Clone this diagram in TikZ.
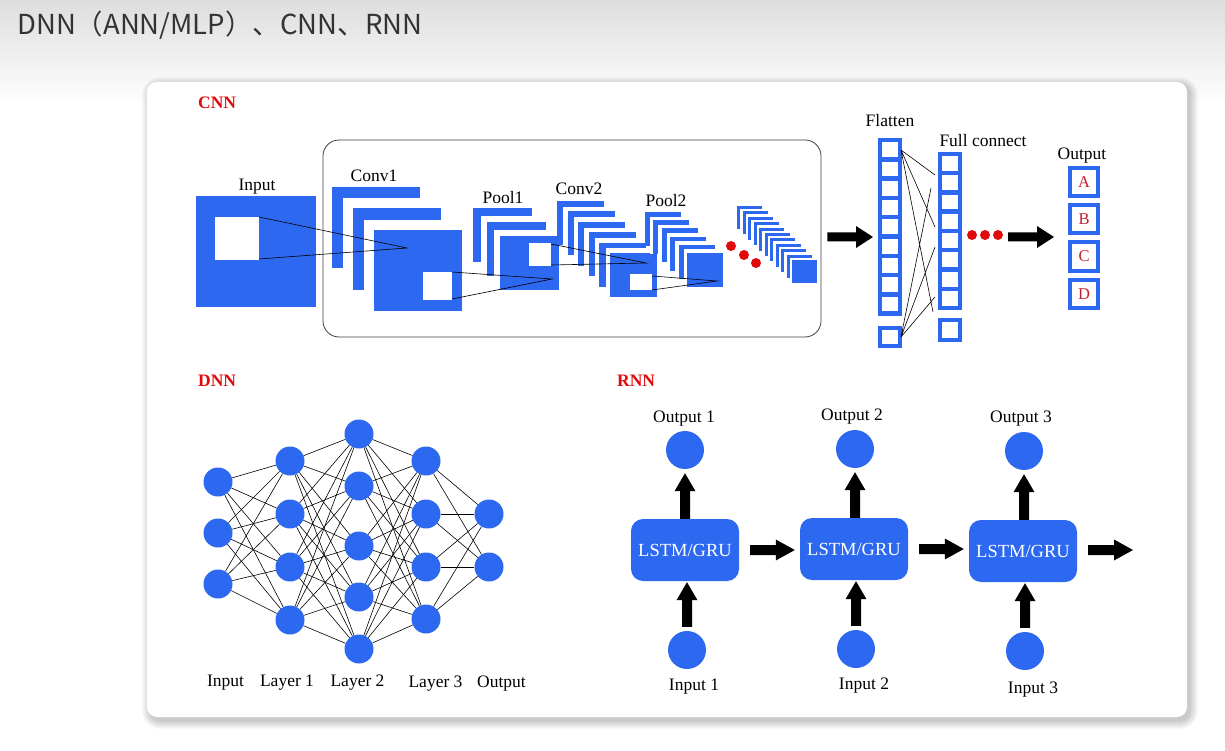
\documentclass[tikz,border=0pt]{standalone}
\usepackage{fontspec}
\setmainfont{Liberation Serif}
\newfontfamily\cjkfont{Noto Sans CJK SC}
\usetikzlibrary{calc}
\definecolor{nnblue}{RGB}{45,105,240}
\definecolor{nnred}{RGB}{225,10,10}
\definecolor{ltrred}{RGB}{200,30,40}
\newcommand\cnnstack[8]{%
  \foreach \k in {1,...,#5}{%
    \pgfmathsetmacro\stkx{#1+(\k-1)*#6}%
    \pgfmathsetmacro\stky{#2+(\k-1)*#7}%
    \ifnum\k>1 \fill[white] ({\stkx-#8},{\stky-#8}) rectangle ({\stkx+#3},{\stky+#4});\fi
    \fill[nnblue] (\stkx,\stky) rectangle ({\stkx+#3},{\stky+#4});
  }}
% from, to, shorten start, shorten end, half shaft, half head, head length
\newcommand\fatarrow[7]{%
  \fill[black] let \p1=(#1), \p2=(#2), \n1={atan2(\y2-\y1,\x2-\x1)}, \n2={veclen(\x2-\x1,\y2-\y1)} in
   [shift={(\p1)}, rotate=\n1]
   (#3,-#5) -- ({\n2-#4-#7},-#5) -- ({\n2-#4-#7},-#6) -- ({\n2-#4},0) -- ({\n2-#4-#7},#6) -- ({\n2-#4-#7},#5) -- (#3,#5) -- cycle;}
\begin{document}
\begin{tikzpicture}[x=1pt,y=-1pt,
  lbl/.style={font=\fontsize{17.5}{20}\selectfont, anchor=base, inner sep=0},
  sect/.style={font=\fontsize{17.5}{20}\selectfont\bfseries, text=nnred, anchor=base west, inner sep=0},
  neuron/.style={circle, fill=nnblue, minimum size=29pt, inner sep=0},
  rnode/.style={circle, fill=nnblue, minimum size=38pt, inner sep=0},
  lstm/.style={rounded corners=12pt, fill=nnblue, text=white, minimum width=108pt, minimum height=62pt, inner sep=0, font=\fontsize{18.5}{20}\selectfont},
  edge/.style={line width=0.6pt, black},
  cell/.style={draw=nnblue, line width=4.5pt, fill=white},
  outbox/.style={draw=nnblue, line width=4pt, fill=white, minimum width=28pt, minimum height=28pt, inner sep=0, text=ltrred, font=\fontsize{16.5}{18}\selectfont},
  dot/.style={circle, fill=nnred, inner sep=0, minimum size=10pt}
  ]
\useasboundingbox (0,0) rectangle (1225,751);
% background
\fill[white] (0,0) rectangle (1225,751);
\shade[top color=black!13, bottom color=white] (0,0) rectangle (1225,105);
\node[anchor=base west, inner sep=0, font=\cjkfont\fontsize{27.5}{30}\selectfont, text=black!80] (title) at (17,35) {DNN（ANN/MLP）、CNN、RNN};
% panel shadow + panel
\foreach \s in {0,...,8}
  \fill[black, opacity=0.022, rounded corners={10pt+\s pt}] ({150-\s},{85-\s}) rectangle ({1190+\s},{721+\s});
\fill[white, rounded corners=10pt] (147,82) rectangle (1187,717);

% ================= CNN =================
\node[sect] (tcnn) at (198,109) {CNN};
\fill[nnblue] (196,196) rectangle (316,307);
\fill[white] (215,217) rectangle (259,260);
\node[lbl] (linput) at (257,191) {Input};
% conv1
\cnnstack{332}{187}{88}{81}{3}{21}{21.5}{10}
\fill[white] (423,272) rectangle (452,300);
\node[lbl] (lconv1) at (374,182) {Conv1};
% pool1
\cnnstack{473}{208}{59}{54}{3}{13.5}{14}{6}
\fill[white] (529,243) rectangle (551,266);
\node[lbl] (lpool1) at (503,204) {Pool1};
% conv2
\cnnstack{557}{201}{47}{44}{6}{10.6}{10.4}{4.5}
\fill[white] (630,274) rectangle (652,290);
\node[lbl] (lconv2) at (579,195) {Conv2};
% pool2
\cnnstack{645}{212}{36}{34}{6}{8.4}{8.2}{3.5}
\node[lbl] (lpool2) at (666,207) {Pool2};
% final
\cnnstack{737}{206}{25}{23}{11}{5.5}{5.4}{2.3}
% red dots
\node[dot] (d1) at (731,246) {};
\node[dot] (d2) at (744,255) {};
\node[dot] (d3) at (756,263) {};
% receptive field lines
\coordinate (a1) at (259,217); \coordinate (a2) at (259,259); \coordinate (ap) at (407,248);
\draw[edge] (a1) -- (ap) -- (a2);
\coordinate (b1c) at (452,272); \coordinate (b2c) at (452,299); \coordinate (bp) at (552,279);
\draw[edge] (b1c) -- (bp) -- (b2c);
\coordinate (c1c) at (551,244); \coordinate (c2c) at (551,265); \coordinate (cp) at (646,263);
\draw[edge] (c1c) -- (cp) -- (c2c);
\coordinate (e1c) at (652,276); \coordinate (e2c) at (652,290); \coordinate (ep) at (717,281);
\draw[edge] (e1c) -- (ep) -- (e2c);
% box
\node[draw=black!75, line width=0.8pt, rounded corners=16pt, minimum width=498pt, minimum height=197pt, inner sep=0] (convbox) at (572,238.5) {};
% arrow to flatten
\coordinate (flatW) at (878,237);
\coordinate (boxE) at (convbox.east |- flatW);
\fatarrow{boxE}{flatW}{6}{5}{4.5}{11}{17}
% flatten
\node[lbl] (lflat) at (890,127) {Flatten};
\foreach \k in {0,...,8} \path[cell] (880,{140+\k*19.3}) rectangle (900,{159.3+\k*19.3});
\path[cell] (880,328) rectangle (900,346);
% full connect
\node[lbl] (lfc) at (983,147) {Full connect};
\foreach \k in {0,...,7} \path[cell] (940,{154+\k*19.25}) rectangle (960,{173.25+\k*19.25});
\path[cell] (940,320) rectangle (960,340);
% flatten -> fc lines
\coordinate (ft) at (901,150); \coordinate (fb) at (901,337);
\coordinate (g1) at (935,175); \coordinate (g2) at (935,227); \coordinate (g3) at (933,312);
\coordinate (h1) at (931,188); \coordinate (h2) at (935,247); \coordinate (h3) at (935,297);
\draw[edge] (ft) -- (g1) (ft) -- (g2) (ft) -- (g3) (fb) -- (h1) (fb) -- (h2) (fb) -- (h3);
% dots and arrow
\node[dot] (f1) at (972,235) {};
\node[dot] (f2) at (985,235) {};
\node[dot] (f3) at (998,235) {};
\coordinate (fa1) at (1008,237); \coordinate (fa2) at (1054,237);
\fatarrow{fa1}{fa2}{0}{0}{4.5}{11}{17}
% output
\node[lbl] (lout) at (1082,160) {Output};
\node[outbox] (oA) at (1084,182) {A};
\node[outbox] (oB) at (1084,219) {B};
\node[outbox] (oC) at (1084,256.5) {C};
\node[outbox] (oD) at (1084,294) {D};

% ================= DNN =================
\node[sect] (tdnn) at (198,386) {DNN};
\foreach \y [count=\i] in {482,533,584} \node[neuron] (n0-\i) at (218,\y) {};
\foreach \y [count=\i] in {461,514,567,620} \node[neuron] (n1-\i) at (290,\y) {};
\foreach \y [count=\i] in {434,486,546,597,649} \node[neuron] (n2-\i) at (359,\y) {};
\foreach \y [count=\i] in {461,514,567,619} \node[neuron] (n3-\i) at (426,\y) {};
\foreach \y [count=\i] in {514,567} \node[neuron] (n4-\i) at (489,\y) {};
\foreach \a in {1,...,3} \foreach \b in {1,...,4} \draw[edge] (n0-\a) -- (n1-\b);
\foreach \a in {1,...,4} \foreach \b in {1,...,5} \draw[edge] (n1-\a) -- (n2-\b);
\foreach \a in {1,...,5} \foreach \b in {1,...,4} \draw[edge] (n2-\a) -- (n3-\b);
\foreach \a in {1,...,4} \foreach \b in {1,...,2} \draw[edge] (n3-\a) -- (n4-\b);
\node[lbl] (dl0) at (225.5,686) {Input};
\node[lbl] (dl1) at (287,686) {Layer 1};
\node[lbl] (dl2) at (357.5,686) {Layer 2};
\node[lbl] (dl3) at (435.5,687) {Layer 3};
\node[lbl] (dl4) at (501.5,687) {Output};

% ================= RNN =================
\node[sect] (trnn) at (617,386) {RNN};
\node[lstm] (r1) at (685,550) {LSTM/GRU};
\node[lstm] (r2) at (854,549) {LSTM/GRU};
\node[lstm] (r3) at (1023,551) {LSTM/GRU};
\node[rnode] (o1) at (685,450) {};
\node[rnode] (o2) at (855,449) {};
\node[rnode] (o3) at (1024,451) {};
\node[rnode] (i1) at (687,650) {};
\node[rnode] (i2) at (856,649) {};
\node[rnode] (i3) at (1025,651) {};
\foreach \q in {1,2,3}{
  \coordinate (ib\q) at (i\q.north |- r\q.south);
  \coordinate (it\q) at (i\q.north);
  \coordinate (ot\q) at (o\q.south |- r\q.north);
  \coordinate (ob\q) at (o\q.south);
}
\fatarrow{it1}{ib1}{4}{1}{5}{10.5}{18}
\fatarrow{it2}{ib2}{4}{1}{5}{10.5}{18}
\fatarrow{it3}{ib3}{4}{1}{5}{10.5}{18}
\fatarrow{ot1}{ob1}{0}{4}{5}{10.5}{18}
\fatarrow{ot2}{ob2}{0}{4}{5}{10.5}{18}
\fatarrow{ot3}{ob3}{0}{4}{5}{10.5}{18}
\coordinate (r1e) at (r1.east);
\coordinate (r2e) at (r2.east);
\coordinate (r2w) at (r2.west |- r1.east);
\coordinate (r3w) at (r3.west |- r2.east);
\fatarrow{r1e}{r2w}{11}{5}{5}{10.5}{19}
\fatarrow{r2e}{r3w}{11}{5}{5}{10.5}{19}
\coordinate (rend) at (1133,550);
\coordinate (r3e) at (r3.east |- rend);
\fatarrow{r3e}{rend}{11}{0}{5}{10.5}{19}
\node[lbl] (ro1) at (684,422) {Output 1};
\node[lbl] (ro2) at (852,420) {Output 2};
\node[lbl] (ro3) at (1021,422) {Output 3};
\node[lbl] (ri1) at (694,690) {Input 1};
\node[lbl] (ri2) at (864,689) {Input 2};
\node[lbl] (ri3) at (1033,693) {Input 3};
\end{tikzpicture}
\end{document}
